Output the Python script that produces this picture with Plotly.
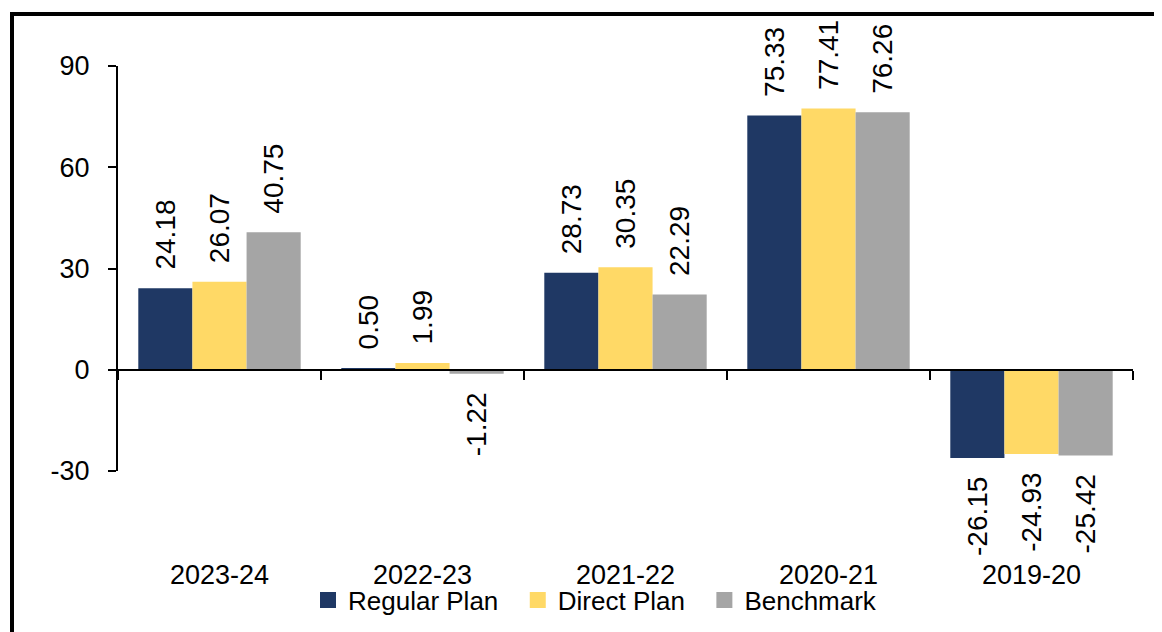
import plotly.graph_objects as go

categories = ["2023-24", "2022-23", "2021-22", "2020-21", "2019-20"]
regular_plan = [24.18, 0.50, 28.73, 75.33, -26.15]
direct_plan = [26.07, 1.99, 30.35, 77.41, -24.93]
benchmark = [40.75, -1.22, 22.29, 76.26, -25.42]
series_names = ["Regular Plan", "Direct Plan", "Benchmark"]
series_colors = ["#1F3864", "#FFD966", "#A5A5A5"]
y_ticks = [-30, 0, 30, 60, 90]
y_tick_text = ["-30", "0", "30", "60", "90"]

FONT = "Liberation Sans, Arial, sans-serif"
OFF = 8  # the page body adds an 8px margin around the figure
W, H = 1162 - OFF, 632 - OFF
# plot area in page pixels: x 118..1133, y 66..471
ML, MT = 118 - OFF, 66 - OFF
MR, MB = W - (1133 - OFF), H - (471 - OFF)
PW, PH = W - ML - MR, H - MT - MB
NBSP = "\u00a0"


def label(v):
    s = f"{v:.2f}"
    return NBSP * 2 + s if v >= 0 else s + NBSP * 2


fig = go.Figure()
for name, vals, col in zip(series_names, [regular_plan, direct_plan, benchmark], series_colors):
    fig.add_trace(go.Bar(
        x=categories, y=vals, name=name, legendgroup=name, showlegend=False,
        marker=dict(color=col, line=dict(width=0)),
        text=[label(v) for v in vals],
        textposition="outside", textangle=-90,
        textfont=dict(family=FONT, size=28, color="black"),
        constraintext="none", cliponaxis=False,
    ))
# legend entries with larger square swatches
for name, col in zip(series_names, series_colors):
    fig.add_trace(go.Scatter(
        x=[None], y=[None], mode="markers", name=name + NBSP * 2, legendgroup=name,
        marker=dict(symbol="square", size=17, color=col), showlegend=True,
    ))

ymin, ymax = min(y_ticks), max(y_ticks)
zero_pos = (0 - ymin) / (ymax - ymin)

# page pixel -> paper fraction
px2x = lambda p: (p - OFF - ML) / PW
py2y = lambda p: (H - MB - (p - OFF)) / PH

# outer frame (extends beyond the picture on the right and bottom)
fig.add_shape(type="rect", xref="paper", yref="paper",
              x0=px2x(12), x1=px2x(1162 + 20), y0=py2y(632 + 20), y1=py2y(14),
              line=dict(color="black", width=4), fillcolor="rgba(0,0,0,0)")

fig.update_layout(
    width=W, height=H,
    margin=dict(l=ML, r=MR, t=MT, b=MB, pad=0, autoexpand=False),
    paper_bgcolor="white", plot_bgcolor="white",
    barmode="group", bargap=0.2, bargroupgap=0,
    font=dict(family=FONT, size=27, color="black"),
    showlegend=True,
    legend=dict(orientation="h", x=px2x(308), xanchor="left", y=py2y(600), yanchor="middle",
                font=dict(family=FONT, size=26, color="black"),
                itemwidth=30, tracegroupgap=0, bgcolor="rgba(0,0,0,0)", itemsizing="trace"),
    xaxis=dict(type="category", categoryorder="array", categoryarray=categories,
               anchor="free", position=zero_pos, automargin=False,
               showline=True, linecolor="black", linewidth=2,
               ticks="outside", tickson="boundaries", ticklen=9, tickwidth=2, tickcolor="black",
               ticklabelstandoff=181, showgrid=False, zeroline=False,
               tickfont=dict(family=FONT, size=27, color="black")),
    yaxis=dict(range=[ymin, ymax], tickvals=y_ticks, ticktext=y_tick_text, automargin=False,
               showline=True, linecolor="black", linewidth=2,
               ticks="outside", ticklen=8, tickwidth=2, tickcolor="black",
               ticklabelstandoff=13, showgrid=False, zeroline=False,
               tickfont=dict(family=FONT, size=27, color="black")),
)

fig.write_html("out.html")
